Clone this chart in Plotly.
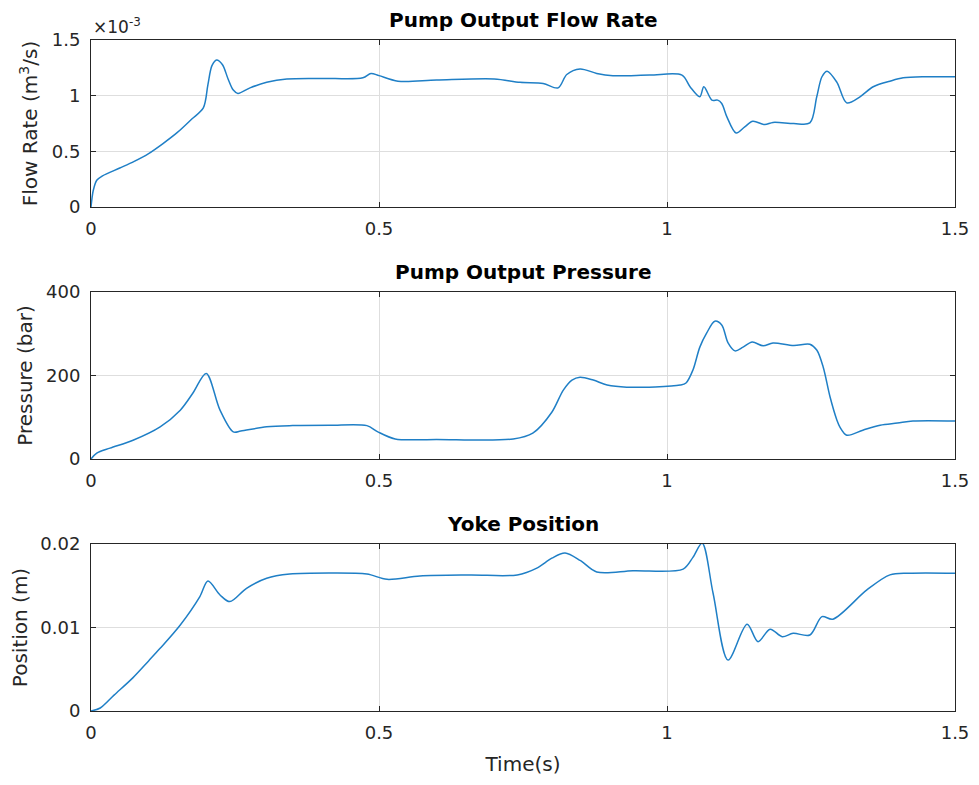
import plotly.graph_objects as go

# values (time in s)
time_flow = [0, 0.004, 0.01, 0.02, 0.05, 0.075, 0.1, 0.125, 0.15, 0.175, 0.195, 0.203, 0.21, 0.218,
             0.228, 0.238, 0.247, 0.255, 0.276, 0.305, 0.34, 0.4, 0.472, 0.486, 0.5, 0.533,
             0.6, 0.7, 0.745, 0.785, 0.811, 0.826, 0.849, 0.878, 0.906, 0.97, 1.026, 1.04,
             1.057, 1.064, 1.078, 1.088, 1.095, 1.104, 1.12, 1.135, 1.149, 1.17, 1.184, 1.22,
             1.248, 1.26, 1.269, 1.278, 1.295, 1.312, 1.335, 1.358, 1.387, 1.41, 1.45, 1.5]
flow_rate_e3 = [0, 0.15, 0.24, 0.28, 0.35, 0.41, 0.48, 0.57, 0.67, 0.79, 0.89, 1.1, 1.27, 1.32,
                1.28, 1.15, 1.05, 1.02, 1.07, 1.12, 1.15, 1.155, 1.16, 1.2, 1.18, 1.13,
                1.14, 1.15, 1.12, 1.11, 1.07, 1.19, 1.24, 1.2, 1.18, 1.185, 1.185, 1.08,
                0.99, 1.08, 0.96, 0.96, 0.93, 0.81, 0.665, 0.72, 0.77, 0.74, 0.76, 0.75,
                0.755, 0.99, 1.17, 1.22, 1.12, 0.935, 0.99, 1.08, 1.13, 1.16, 1.17, 1.17]

time_pressure = [0, 0.01, 0.033, 0.073, 0.12, 0.155, 0.177, 0.2, 0.224, 0.247, 0.26, 0.305,
                 0.35, 0.415, 0.479, 0.498, 0.528, 0.6, 0.733, 0.767, 0.8, 0.82, 0.835, 0.849,
                 0.872, 0.896, 0.93, 1.023, 1.033, 1.045, 1.057, 1.069, 1.083, 1.095, 1.106,
                 1.118, 1.132, 1.148, 1.167, 1.184, 1.22, 1.248, 1.26, 1.271, 1.283, 1.295,
                 1.3, 1.312, 1.34, 1.37, 1.4, 1.427, 1.5]
pressure_bar = [0, 14, 26, 45, 77, 117, 158, 205, 117, 65, 67, 77,
                80, 81, 80, 65, 48, 47, 48, 62, 112, 165, 189, 196,
                189, 177, 172, 177, 182, 213, 268, 302, 330, 321, 278,
                259, 268, 280, 271, 278, 272, 275, 261, 221, 149, 93,
                77, 57, 69, 81, 86, 91, 91]

time_position = [0, 0.016, 0.04, 0.073, 0.1, 0.12, 0.155, 0.189, 0.203, 0.224, 0.241, 0.27, 0.305, 0.345,
                 0.415, 0.479, 0.514, 0.571, 0.658, 0.74, 0.774, 0.8, 0.823, 0.85, 0.878, 0.941,
                 1.028, 1.045, 1.061, 1.08, 1.106, 1.139, 1.158, 1.179, 1.2, 1.219, 1.248, 1.269,
                 1.288, 1.347, 1.387, 1.42, 1.5]
position_m = [0, 0.00036, 0.0019, 0.004, 0.006, 0.0075, 0.0103, 0.0137, 0.01557, 0.0139, 0.0131, 0.0147, 0.0159, 0.0164,
              0.01653, 0.0164, 0.01577, 0.01617, 0.01629, 0.0163, 0.01712, 0.0183, 0.01892, 0.018, 0.01665, 0.0168,
              0.017, 0.0184, 0.0201, 0.0141, 0.0061, 0.0104, 0.0083, 0.0098, 0.0089, 0.0093, 0.0091, 0.0113,
              0.011, 0.0145, 0.0163, 0.0165, 0.0165]

x_ticks = [0, 0.5, 1, 1.5]
x_ticktext = ['0', '0.5', '1', '1.5']

line_color = '#1f7fc6'
ink = '#262626'
font = 'DejaVu Sans'

# the page body has an 8px margin, so the figure is drawn at (8, 8)
W, H, OFF = 963, 769, 8


def px_x(p):
    return (p - OFF) / W


def px_y(p):
    return 1 - (p - OFF) / H


fig = go.Figure()
series = [(time_flow, flow_rate_e3, 'x', 'y'),
          (time_pressure, pressure_bar, 'x2', 'y2'),
          (time_position, position_m, 'x3', 'y3')]
for t, v, xa, ya in series:
    fig.add_trace(go.Scatter(x=t, y=v, xaxis=xa, yaxis=ya, mode='lines',
                             line=dict(color=line_color, width=1.5, shape='spline', smoothing=0.9),
                             showlegend=False))

x_domain = [px_x(91), px_x(955)]
y_domains = [[px_y(207), px_y(40)],
             [px_y(459), px_y(292)],
             [px_y(711), px_y(544)]]


def common_axis():
    return dict(showline=True, linecolor=ink, linewidth=1, mirror='allticks',
                ticks='inside', ticklen=5, tickcolor=ink, showgrid=True,
                gridcolor='#dedede', gridwidth=1, zeroline=False,
                tickfont=dict(family=font, size=18, color=ink), automargin=False)


layout = {}
y_setup = [
    ([0, 0.5, 1, 1.5], ['0', '0.5', '1', '1.5'], [0, 1.5], 'Flow Rate (m<sup>3</sup>/s)'),
    ([0, 200, 400], ['0', '200', '400'], [0, 400], 'Pressure (bar)'),
    ([0, 0.01, 0.02], ['0', '0.01', '0.02'], [0, 0.02], 'Position (m)'),
]
for i in range(3):
    sx = '' if i == 0 else str(i + 1)
    xa = common_axis()
    xa.update(domain=x_domain, range=[0, 1.5], tickvals=x_ticks, ticktext=x_ticktext,
              anchor='y' + sx, ticklabelstandoff=5)
    if i == 2:
        xa['title'] = dict(text='Time(s)', font=dict(family=font, size=20, color=ink), standoff=15)
    layout['xaxis' + sx] = xa
    tv, tt, rng, title = y_setup[i]
    ya = common_axis()
    ya.update(domain=y_domains[i], range=rng, tickvals=tv, ticktext=tt, anchor='x' + sx,
              ticklabelstandoff=6,
              title=dict(text=title, font=dict(family=font, size=20, color=ink), standoff=8))
    layout['yaxis' + sx] = ya

fig.update_layout(**layout)

titles = ['Pump Output Flow Rate', 'Pump Output Pressure', 'Yoke Position']
title_y = [20, 272, 524]
for text, yp in zip(titles, title_y):
    fig.add_annotation(text='<b>%s</b>' % text, xref='paper', yref='paper',
                       x=px_x(523), y=px_y(yp), xanchor='center', yanchor='middle',
                       showarrow=False, font=dict(family=font, size=20, color='#000000'))

fig.add_annotation(text='×10<sup>-3</sup>', xref='paper', yref='paper',
                   x=px_x(91), y=px_y(39), xanchor='left', yanchor='bottom',
                   showarrow=False, font=dict(family=font, size=17, color=ink))

fig.update_layout(width=W, height=H, margin=dict(l=0, r=0, t=0, b=0),
                  plot_bgcolor='white', paper_bgcolor='white')

fig.write_html('out.html')
